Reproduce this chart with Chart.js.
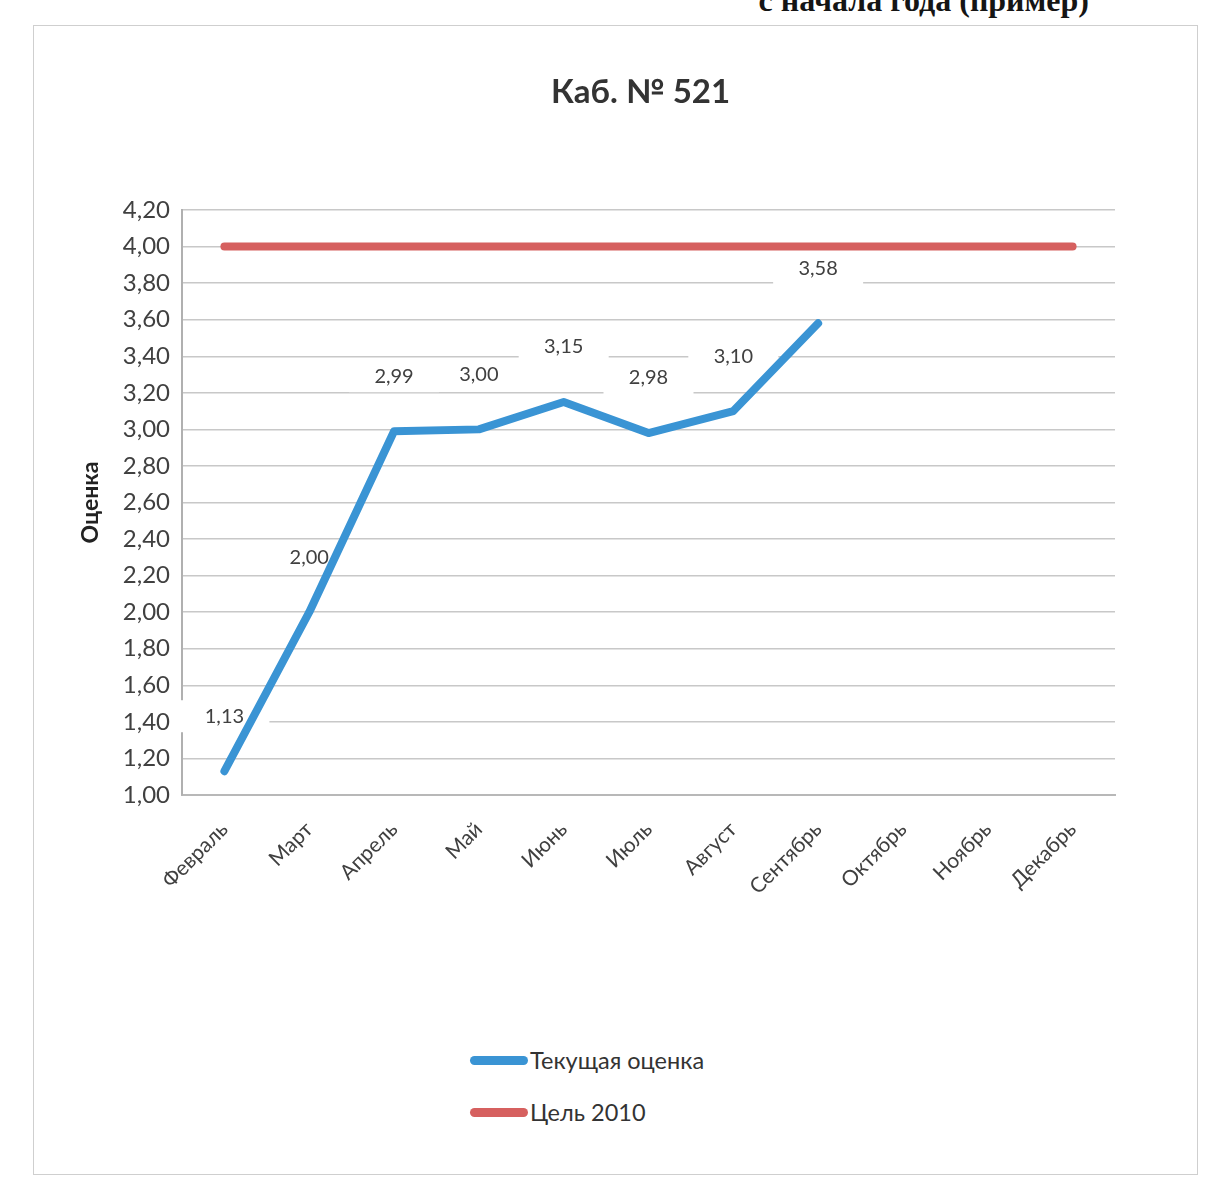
<!DOCTYPE html>
<html lang="ru">
<head>
<meta charset="utf-8">
<title>Каб. № 521</title>
<script src="https://cdn.jsdelivr.net/npm/chart.js@4/dist/chart.umd.min.js"></script>
<style>
  html, body { margin: 0; padding: 0; background: #fff; }
  body { width: 1211px; height: 1204px; position: relative; overflow: hidden; font-family: Lato, sans-serif; }
  #doc-head {
    position: absolute; right: 122px; top: -18px;
    font: bold 32px "Liberation Serif", serif; color: #151515; white-space: nowrap;
  }
  #frame {
    position: absolute; left: 33px; top: 25px; width: 1165px; height: 1150px;
    border: 1px solid #cfcfcf; box-sizing: border-box;
  }
  #wrap { position: absolute; left: 35px; top: 12px; width: 1160px; height: 950px; }
  #chart { display: block; }
  #legend { position: absolute; left: 470px; top: 1043px; }
  .item { display: flex; align-items: center; height: 34px; margin-bottom: 18px; font-size: 23.5px; color: #333; }
  .swatch { width: 58px; height: 9px; border-radius: 5px; margin-right: 2px; }
</style>
</head>
<body>
<div id="doc-head">с начала года (пример)</div>
<div id="frame"></div>
<div id="wrap"><canvas id="chart" width="1160" height="950"></canvas></div>
<div id="legend"></div>

<script>
const months = ['Февраль', 'Март', 'Апрель', 'Май', 'Июнь', 'Июль', 'Август',
                'Сентябрь', 'Октябрь', 'Ноябрь', 'Декабрь'];
const currentScore = [1.13, 2.00, 2.99, 3.00, 3.15, 2.98, 3.10, 3.58, null, null, null];
const target2010 = [4.00, 4.00, 4.00, 4.00, 4.00, 4.00, 4.00, 4.00, 4.00, 4.00, 4.00];
const seriesNames = ['Текущая оценка', 'Цель 2010'];
const chartTitle = 'Каб. № 521';

const fmt = v => v.toFixed(2).replace('.', ',');

// value labels with white boxes, drawn under the lines
const valueLabels = {
  id: 'valueLabels',
  beforeDatasetsDraw(chart) {
    const ctx = chart.ctx;
    const meta = chart.getDatasetMeta(0);
    ctx.save();
    ctx.font = '20px Lato, sans-serif';
    ctx.textAlign = 'center';
    ctx.textBaseline = 'middle';
    meta.data.forEach((pt, i) => {
      const v = currentScore[i];
      if (v == null) return;
      const y = pt.y - 55;
      ctx.fillStyle = '#fff';
      ctx.fillRect(pt.x - 45, y - 16, 90, 32);
      ctx.fillStyle = '#404040';
      ctx.fillText(fmt(v), pt.x, y);
    });
    ctx.restore();
  }
};

// title centred over the plot area (Excel style), not over the whole canvas
const plotTitle = {
  id: 'plotTitle',
  afterDraw(chart) {
    const ctx = chart.ctx;
    const a = chart.chartArea;
    ctx.save();
    ctx.font = 'bold 33px Lato, sans-serif';
    ctx.fillStyle = '#333';
    ctx.textAlign = 'center';
    ctx.textBaseline = 'middle';
    ctx.fillText(chartTitle, (a.left + a.right) / 2 - 8, 80);
    ctx.restore();
  }
};

const chart = new Chart(document.getElementById('chart'), {
  type: 'line',
  data: {
    labels: months,
    datasets: [
      {
        label: seriesNames[0],
        data: currentScore,
        borderColor: '#3a94d4',
        borderWidth: 8,
        pointRadius: 0,
        borderJoinStyle: 'round',
        borderCapStyle: 'round',
        tension: 0
      },
      {
        label: seriesNames[1],
        data: target2010,
        borderColor: '#d6605f',
        borderWidth: 8,
        pointRadius: 0,
        borderCapStyle: 'round',
        tension: 0
      }
    ]
  },
  options: {
    responsive: false,
    animation: false,
    layout: { padding: { left: 0, right: 80, top: 198, bottom: 0 } },
    plugins: {
      legend: { display: false },
      tooltip: { enabled: false },
      title: { display: false }
    },
    scales: {
      x: {
        offset: true,
        grid: { display: false },
        border: { display: true, color: '#b8b8b8', width: 2 },
        ticks: {
          autoSkip: false, maxRotation: 45, minRotation: 45, padding: 14,
          color: '#404040', font: { family: 'Lato, sans-serif', size: 21 }
        },
        afterFit(scale) { scale.height = 167; }
      },
      y: {
        min: 1, max: 4.2,
        grid: { color: '#c8c8c8', lineWidth: 1.5, drawTicks: false },
        border: { display: true, color: '#b0b0b0', width: 2 },
        ticks: {
          stepSize: 0.2, autoSkip: false, padding: 12, color: '#404040',
          font: { family: 'Lato, sans-serif', size: 24 },
          callback: v => fmt(v)
        },
        title: {
          display: true, text: 'Оценка', color: '#222',
          font: { family: 'Lato, sans-serif', size: 23, weight: 'bold' },
          padding: { top: 42, bottom: 0 }
        },
        afterFit(scale) { scale.width = 147; }
      }
    }
  },
  plugins: [valueLabels, plotTitle]
});

// legend stacked vertically like the original
const legend = document.getElementById('legend');
chart.data.datasets.forEach(ds => {
  const item = document.createElement('div');
  item.className = 'item';
  const sw = document.createElement('span');
  sw.className = 'swatch';
  sw.style.background = ds.borderColor;
  const txt = document.createElement('span');
  txt.textContent = ds.label;
  item.appendChild(sw);
  item.appendChild(txt);
  legend.appendChild(item);
});
</script>
</body>
</html>
